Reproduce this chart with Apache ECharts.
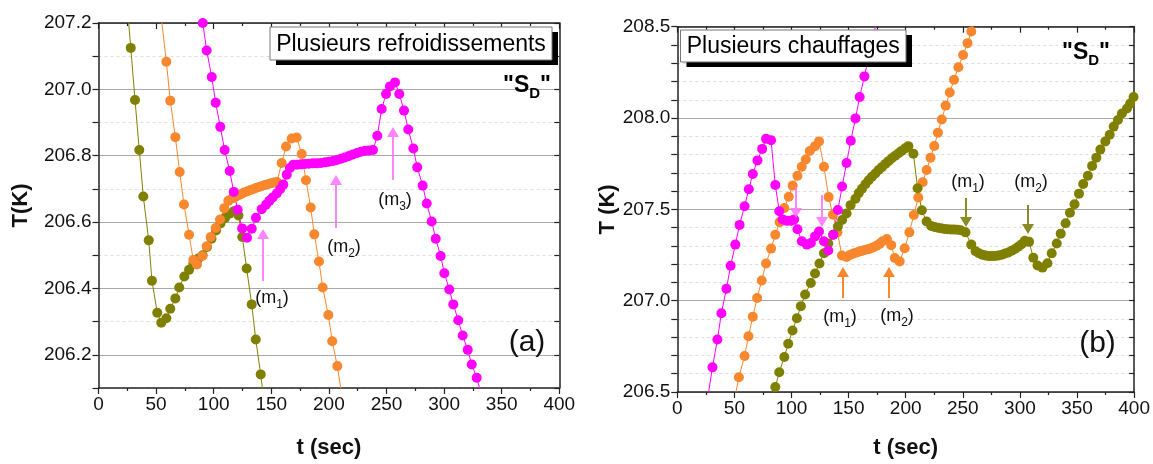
<!DOCTYPE html>
<html>
<head>
<meta charset="utf-8">
<script src="https://cdn.jsdelivr.net/npm/echarts@6/dist/echarts.min.js"></script>
<style>
html,body{margin:0;padding:0;background:#fff;}
#chart{width:1153px;height:464px;}
</style>
</head>
<body>
<div id="chart"></div>
<script>
// ---------- Panel (a): plusieurs refroidissements ----------
const aOliveT = [24.3, 28.0, 31.7, 35.4, 38.9, 43.6, 46.4, 51.0, 54.5, 58.9, 62.3, 66.7, 70.1, 74.5, 78.6, 82.3, 86.6, 90.4, 94.2, 98.1, 102.0, 105.9, 109.8, 113.7, 117.6, 121.5, 124.8, 128.6, 133.0, 136.5, 140.8, 144.5];
const aOliveK = [207.28, 207.125, 206.968, 206.817, 206.677, 206.545, 206.423, 206.327, 206.297, 206.310, 206.339, 206.370, 206.403, 206.436, 206.456, 206.474, 206.490, 206.500, 206.525, 206.550, 206.575, 206.596, 206.612, 206.625, 206.633, 206.620, 206.555, 206.460, 206.352, 206.246, 206.141, 206.035];

const aOrangeT = [51.2, 54.9, 58.9, 62.3, 66.7, 70.5, 74.2, 78.6, 82.3, 85.5, 90.1, 93.9, 97.4, 101.7, 105.5, 109.2, 112.7, 115.9, 118.5, 121.1, 123.7, 126.3, 128.9, 131.5, 134.1, 136.7, 139.3, 141.9, 144.5, 147.1, 149.7, 152.3, 154.9, 159.0, 162.8, 167.7, 172.0, 176.4, 180.1, 184.2, 187.3, 191.4, 194.6, 199.5, 202.9, 207.3, 210.9];
const aOrangeK = [207.32, 207.204, 207.083, 206.966, 206.856, 206.751, 206.653, 206.562, 206.486, 206.472, 206.498, 206.527, 206.555, 206.582, 206.608, 206.642, 206.664, 206.671, 206.675, 206.680, 206.684, 206.689, 206.692, 206.696, 206.699, 206.703, 206.706, 206.709, 206.712, 206.714, 206.717, 206.719, 206.721, 206.778, 206.828, 206.852, 206.855, 206.805, 206.726, 206.644, 206.563, 206.481, 206.403, 206.320, 206.241, 206.166, 206.085];

const aMagT = [86.8, 90.5, 93.9, 98.3, 101.7, 105.7, 109.5, 113.9, 117.4, 120.8, 124.7, 128.9, 133.0, 136.7, 141.7, 145.4, 148.3, 151.2, 154.7, 157.6, 160.4, 163.4, 166.2, 169.1, 172.3, 175.8, 179.3, 182.7, 186.2, 189.7, 193.1, 196.6, 200.1, 203.5, 207.0, 210.5, 213.9, 217.4, 220.9, 224.4, 227.8, 231.3, 234.8, 238.3, 242.0, 245.8, 249.6, 253.0, 257.4, 261.1, 265.2, 268.9, 273.3, 276.7, 281.4, 284.9, 289.2, 292.7, 297.0, 300.2, 304.5, 308.0, 312.3, 316.1, 320.5, 324.0, 328.3, 332.0];
const aMagK = [207.28, 207.2, 207.117, 207.037, 206.960, 206.887, 206.817, 206.754, 206.691, 206.637, 206.581, 206.553, 206.580, 206.613, 206.639, 206.652, 206.664, 206.674, 206.686, 206.699, 206.713, 206.743, 206.763, 206.773, 206.773, 206.774, 206.775, 206.776, 206.777, 206.777, 206.778, 206.780, 206.782, 206.784, 206.787, 206.791, 206.795, 206.799, 206.804, 206.808, 206.812, 206.815, 206.816, 206.817, 206.860, 206.941, 206.986, 207.009, 207.021, 206.986, 206.936, 206.879, 206.822, 206.765, 206.710, 206.656, 206.602, 206.550, 206.498, 206.446, 206.397, 206.352, 206.304, 206.258, 206.215, 206.171, 206.131, 206.085];

// ---------- Panel (b): plusieurs chauffages ----------
const bMagT = [27.1, 30.8, 35.1, 38.6, 43.0, 46.7, 50.8, 54.5, 58.9, 62.6, 66.1, 70.2, 74.3, 77.7, 82.1, 85.8, 89.3, 92.2, 96.0, 99.5, 102.3, 105.2, 109.0, 113.4, 116.9, 120.6, 124.1, 128.4, 132.2, 136.5, 140.6, 144.3, 148.2, 151.9, 156.0, 159.7, 163.8, 167.8, 171.9, 175.8];
const bMagK = [206.486, 206.635, 206.787, 206.931, 207.065, 207.191, 207.307, 207.415, 207.517, 207.610, 207.694, 207.768, 207.831, 207.886, 207.878, 207.633, 207.490, 207.445, 207.437, 207.437, 207.445, 207.391, 207.325, 207.307, 207.316, 207.352, 207.379, 207.325, 207.275, 207.361, 207.496, 207.625, 207.754, 207.876, 207.998, 208.115, 208.228, 208.342, 208.455, 208.568];

const bOrangeT = [50.2, 53.9, 58.9, 62.3, 66.1, 69.9, 73.9, 77.7, 82.1, 85.8, 89.6, 93.7, 97.6, 101.0, 105.2, 109.0, 112.5, 116.0, 120.6, 124.1, 128.4, 132.5, 136.3, 140.2, 144.1, 148.2, 151.0, 153.7, 156.3, 158.9, 161.5, 164.1, 166.7, 169.3, 171.9, 174.5, 177.1, 179.7, 183.5, 187.3, 190.4, 194.7, 199.1, 203.2, 207.1, 211.0, 214.8, 218.3, 221.7, 225.0, 228.2, 231.5, 235.0, 238.6, 242.3, 246.1, 250.2, 254.1, 257.4, 260.6];
const bOrangeK = [206.464, 206.581, 206.697, 206.805, 206.912, 207.015, 207.110, 207.204, 207.285, 207.361, 207.430, 207.507, 207.569, 207.630, 207.684, 207.733, 207.773, 207.819, 207.846, 207.872, 207.733, 207.567, 207.470, 207.374, 207.247, 207.239, 207.250, 207.257, 207.263, 207.268, 207.272, 207.277, 207.281, 207.286, 207.293, 207.301, 207.311, 207.325, 207.337, 207.304, 207.234, 207.215, 207.287, 207.374, 207.469, 207.565, 207.648, 207.715, 207.783, 207.847, 207.920, 207.992, 208.068, 208.140, 208.210, 208.278, 208.345, 208.410, 208.474, 208.541];

const bOliveT = [81.9, 85.8, 89.3, 93.7, 97.1, 100.9, 104.7, 108.2, 111.9, 116.9, 120.6, 124.5, 128.4, 132.2, 136.5, 140.6, 144.3, 148.2, 151.7, 156.0, 158.9, 161.7, 164.7, 167.6, 170.4, 173.4, 176.3, 179.1, 182.1, 184.9, 187.8, 190.8, 193.7, 196.5, 199.5, 202.3, 206.7, 210.4, 214.1, 218.3, 222.3, 225.2, 228.1, 231.0, 233.8, 236.7, 239.6, 242.4, 245.3, 248.2, 252.3, 257.4, 261.2, 264.1, 267.0, 269.8, 272.7, 275.6, 278.4, 281.3, 284.2, 287.0, 289.9, 292.8, 295.7, 298.5, 301.4, 304.3, 308.0, 311.7, 315.4, 319.7, 324.1, 327.8, 332.2, 335.7, 340.0, 343.8, 347.8, 351.7, 355.4, 359.5, 363.2, 366.9, 370.4, 374.8, 378.6, 382.1, 385.8, 389.3, 393.7, 396.5, 399.5];
const bOliveK = [206.448, 206.527, 206.608, 206.692, 206.764, 206.837, 206.904, 206.970, 207.034, 207.097, 207.149, 207.204, 207.260, 207.313, 207.361, 207.406, 207.442, 207.477, 207.523, 207.558, 207.589, 207.613, 207.637, 207.659, 207.678, 207.696, 207.715, 207.731, 207.748, 207.764, 207.780, 207.793, 207.807, 207.820, 207.834, 207.846, 207.804, 207.616, 207.495, 207.433, 207.409, 207.403, 207.399, 207.396, 207.393, 207.391, 207.390, 207.389, 207.388, 207.386, 207.374, 207.307, 207.271, 207.260, 207.252, 207.247, 207.244, 207.244, 207.245, 207.248, 207.252, 207.258, 207.264, 207.273, 207.283, 207.295, 207.309, 207.328, 207.322, 207.235, 207.193, 207.181, 207.205, 207.259, 207.313, 207.367, 207.424, 207.481, 207.528, 207.586, 207.639, 207.684, 207.738, 207.783, 207.827, 207.872, 207.908, 207.953, 207.989, 208.025, 208.052, 208.079, 208.115];

// ---------- Styles ----------
const OLIVE = '#808000', ORANGE = '#F8872D', MAGENTA = '#FF00FF';
const FONT = "'Liberation Sans', Arial, sans-serif";
const AXC = '#222';
const MAJ = '#a8a8a8', MIN = '#dedede', NONE = 'rgba(0,0,0,0)';
const TICKFS = 19;

function series(t, k, color, gi) {
  return {
    type: 'line', xAxisIndex: gi * 2, yAxisIndex: gi * 2,
    data: t.map((v, i) => [v, k[i]]),
    symbol: 'circle', symbolSize: 10, showSymbol: true, clip: true,
    itemStyle: { color: color }, lineStyle: { color: color, width: 1 },
    animation: false, emphasis: { disabled: true }
  };
}

function xAxes(gi, nameGap) {
  const common = {
    gridIndex: gi, type: 'value', min: 0, max: 400, interval: 50,
    axisLine: { show: true, onZero: false, lineStyle: { color: AXC, width: 1.5 } },
    splitLine: { show: false }
  };
  return [
    Object.assign({}, common, {
      position: 'bottom',
      axisTick: { show: true, inside: false, length: 6, lineStyle: { color: AXC, width: 1.2 } },
      minorTick: { show: true, splitNumber: 2, length: 3, lineStyle: { color: AXC, width: 1.2 } },
      axisLabel: { fontSize: TICKFS, color: '#111', fontFamily: FONT, margin: 7 },
      name: 't (sec)', nameLocation: 'middle', nameGap: nameGap,
      nameTextStyle: { fontSize: 22, fontWeight: 'bold', color: '#111', fontFamily: FONT }
    }),
    Object.assign({}, common, {
      position: 'top',
      axisTick: { show: true, inside: true, length: 6, lineStyle: { color: AXC, width: 1.2 } },
      minorTick: { show: true, splitNumber: 2, length: 3, lineStyle: { color: AXC, width: 1.2 } },
      axisLabel: { show: false }
    })
  ];
}

function yAxes(gi, min, max, labelEvery, solidColors, dashColors, name, nameGap) {
  const common = {
    gridIndex: gi, type: 'value', min: min, max: max, interval: 0.1,
    axisLine: { show: true, onZero: false, lineStyle: { color: AXC, width: 1.5 } }
  };
  return [
    Object.assign({}, common, {
      position: 'left',
      axisTick: { show: true, inside: false, length: 6, lineStyle: { color: AXC, width: 1.2 } },
      axisLabel: {
        fontSize: TICKFS, color: '#111', fontFamily: FONT, margin: 7,
        formatter: v => (Math.round(v * 10) % labelEvery === 0 ? v.toFixed(1) : '')
      },
      splitLine: { show: true, lineStyle: { color: solidColors, width: 1, type: 'solid' } },
      name: name, nameLocation: 'middle', nameGap: nameGap, nameRotate: 90,
      nameTextStyle: { fontSize: 22, fontWeight: 'bold', color: '#111', fontFamily: FONT }
    }),
    Object.assign({}, common, {
      position: 'right',
      axisTick: { show: true, inside: true, length: 5, lineStyle: { color: AXC, width: 1.2 } },
      axisLabel: { show: false },
      splitLine: { show: true, lineStyle: { color: dashColors, width: 1, type: [3, 3] } }
    })
  ];
}

// ---------- Annotations (pixel layout) ----------
function arrow(x, yTail, yTip, color, op) {
  const dir = yTip < yTail ? -1 : 1;
  const hh = 10, hw = 6;
  return [
    { type: 'line', z: 50, shape: { x1: x, y1: yTail, x2: x, y2: yTip - dir * hh },
      style: { stroke: color, lineWidth: 2, opacity: op } },
    { type: 'polygon', z: 50, shape: { points: [[x - hw, yTip - dir * hh], [x + hw, yTip - dir * hh], [x, yTip]] },
      style: { fill: color, opacity: op } }
  ];
}
function mLabel(x, y, sub) {
  return {
    type: 'text', z: 60, x: x, y: y,
    style: {
      text: '{n|(m}{s|' + sub + '}{n|)}', align: 'center', verticalAlign: 'middle',
      rich: {
        n: { fontSize: 18, fontFamily: FONT, fill: '#111', lineHeight: 20, verticalAlign: 'middle' },
        s: { fontSize: 12, fontFamily: FONT, fill: '#111', lineHeight: 26, verticalAlign: 'bottom' }
      }
    }
  };
}
function sdLabel(x, y) {
  return {
    type: 'text', z: 60, x: x, y: y,
    style: {
      text: '{n|"S}{s|D}{n|"}', align: 'center', verticalAlign: 'middle',
      rich: {
        n: { fontSize: 23, fontWeight: 'bold', fontFamily: FONT, fill: '#000', lineHeight: 24, verticalAlign: 'middle' },
        s: { fontSize: 15, fontWeight: 'bold', fontFamily: FONT, fill: '#000', lineHeight: 31, verticalAlign: 'bottom' }
      }
    }
  };
}
function box(x, y, w, h, text) {
  return [
    { type: 'rect', z: 70, shape: { x: x + 6, y: y + 5, width: w, height: h }, style: { fill: '#000' } },
    { type: 'rect', z: 71, shape: { x: x, y: y, width: w, height: h }, style: { fill: '#fff', stroke: '#777', lineWidth: 1 } },
    { type: 'text', z: 72, x: x + w / 2, y: y + h / 2 + 1,
      style: { text: text, fontSize: 23, fontFamily: FONT, fill: '#000', align: 'center', verticalAlign: 'middle' } }
  ];
}
function plain(x, y, text, size) {
  return { type: 'text', z: 60, x: x, y: y,
    style: { text: text, fontSize: size, fontFamily: FONT, fill: '#111', align: 'center', verticalAlign: 'middle' } };
}

const MAG_AR = '#FF70FF', OLV_AR = '#7d7d10', ORG_AR = '#F8872D';
const graphics = [].concat(
  box(270, 27, 282, 33, 'Plusieurs refroidissements'),
  box(680.5, 30, 225.5, 32, 'Plusieurs chauffages'),
  [sdLabel(527, 86), sdLabel(1086, 53)],
  [plain(527, 343, '(a)', 30), plain(1097.5, 344, '(b)', 30)],
  arrow(263, 281, 229, MAG_AR, 0.85),
  arrow(336, 228, 175, MAG_AR, 0.85),
  arrow(393, 180, 127, MAG_AR, 0.85),
  [mLabel(272, 298, '1'), mLabel(344, 247, '2'), mLabel(395, 200, '3')],
  arrow(796, 187, 218, MAG_AR, 0.85),
  arrow(822, 195, 227, MAG_AR, 0.85),
  arrow(843, 298, 267, ORG_AR, 1),
  arrow(889, 298, 267, ORG_AR, 1),
  [mLabel(840, 317, '1'), mLabel(897, 316, '2')],
  arrow(966, 198, 227, OLV_AR, 0.9),
  arrow(1028, 205, 234, OLV_AR, 0.9),
  [mLabel(968, 182, '1'), mLabel(1031, 182, '2')]
);

const chart = echarts.init(document.getElementById('chart'), null, { renderer: 'canvas' });
chart.setOption({
  animation: false,
  backgroundColor: '#fff',
  textStyle: { fontFamily: FONT },
  grid: [
    { left: 98.5, top: 23, width: 460.8, height: 370.3, containLabel: false },
    { left: 677.3, top: 26.7, width: 460, height: 371.6, containLabel: false }
  ],
  xAxis: [].concat(xAxes(0, 49), xAxes(1, 45)),
  yAxis: [].concat(
    yAxes(0, 206.1, 207.2, 2, [NONE, MAJ], [MIN, NONE], 'T(K)', 67),
    yAxes(1, 206.5, 208.5, 5, [MAJ, NONE, NONE, NONE, NONE], [NONE, MIN, MIN, MIN, MIN], 'T (K)', 27)
  ),
  series: [
    series(aOliveT, aOliveK, OLIVE, 0),
    series(aOrangeT, aOrangeK, ORANGE, 0),
    series(aMagT, aMagK, MAGENTA, 0),
    series(bOrangeT, bOrangeK, ORANGE, 1),
    series(bOliveT, bOliveK, OLIVE, 1),
    series(bMagT, bMagK, MAGENTA, 1)
  ],
  graphic: graphics
});
</script>
</body>
</html>
